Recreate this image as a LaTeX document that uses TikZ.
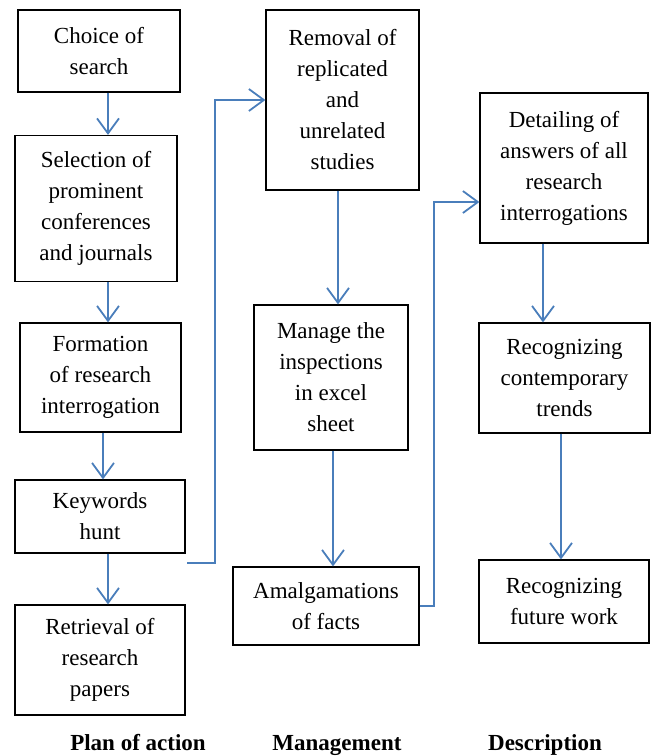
\documentclass[tikz,border=0pt]{standalone}
\usepackage{fontspec}
\setmainfont{Liberation Serif}
\usetikzlibrary{arrows.meta}
\definecolor{flowblue}{RGB}{74,126,187}

\begin{document}
\begin{tikzpicture}[x=1pt,y=-1pt,
    font=\fontsize{23}{31}\selectfont,
    main node/.style={rectangle,draw,line width=1.2pt,align=center,inner sep=2pt},
    flow/.style={draw=flowblue,line width=1.8pt,-{Straight Barb[length=15pt,width=22pt,line width=1.8pt]}},
    phase/.style={font=\fontsize{23}{31}\selectfont\bfseries,anchor=base}]

    \useasboundingbox (0,0) rectangle (656,756);

    % plan of action
    \node[main node,minimum width=162pt,minimum height=82pt] (choice) at (99,51) {Choice of\\search};
    \node[main node,minimum width=162pt,minimum height=146pt] (select) at (96,208.5) {Selection of\\prominent\\conferences\\and journals};
    \node[main node,minimum width=161pt,minimum height=109pt] (form) at (100.5,377.5) {Formation\\of research\\interrogation};
    \node[main node,minimum width=170pt,minimum height=73pt] (keys) at (100,516.5) {Keywords\\hunt};
    \node[main node,minimum width=170pt,minimum height=110pt] (retr) at (100,660) {Retrieval of\\research\\papers};

    % management
    \node[main node,minimum width=153pt,minimum height=180pt] (remov) at (342.5,100) {Removal of\\replicated\\and\\unrelated\\studies};
    \node[main node,minimum width=154pt,minimum height=145pt] (manage) at (331,377.5) {Manage the\\inspections\\in excel\\sheet};
    \node[main node,minimum width=186pt,minimum height=78pt] (amal) at (326,606) {Amalgamations\\of facts};

    % description
    \node[main node,minimum width=168pt,minimum height=150pt] (detail) at (564,168) {Detailing of\\answers of all\\research\\interrogations};
    \node[main node,minimum width=171pt,minimum height=110pt] (trends) at (564.5,378) {Recognizing\\contemporary\\trends};
    \node[main node,minimum width=170pt,minimum height=83pt] (future) at (564,601.5) {Recognizing\\future work};

    \node[phase] (plan) at (138,750) {Plan of action};
    \node[phase] (mgmt) at (337,750) {Management};
    \node[phase] (desc) at (545,750) {Description};

    \coordinate (kout) at (187,563);

    \begin{scope}
        \draw[flow] ([xshift=9pt]choice.south) -- ([xshift=9pt]choice.south |- select.north);
        \draw[flow] ([xshift=12pt]select.south) -- ([xshift=12pt]select.south |- form.north);
        \draw[flow] ([xshift=2.5pt]form.south) -- ([xshift=2.5pt]form.south |- keys.north);
        \draw[flow] ([xshift=8pt]keys.south) -- ([xshift=8pt]keys.south |- retr.north);
        \draw[flow] (kout) -- ++(28,0) |- (remov.west);
        \draw[flow] ([xshift=-4.5pt]remov.south) -- ([xshift=-4.5pt]remov.south |- manage.north);
        \draw[flow] ([xshift=2pt]manage.south) -- ([xshift=2pt]manage.south |- amal.north);
        \draw[flow] (amal.east) -- ++(14,0) |- ([yshift=-34pt]detail.west);
        \draw[flow] ([xshift=-21pt]detail.south) -- ([xshift=-21pt]detail.south |- trends.north);
        \draw[flow] ([xshift=-3.5pt]trends.south) -- ([xshift=-3.5pt]trends.south |- future.north);
    \end{scope}
\end{tikzpicture}
\end{document}
